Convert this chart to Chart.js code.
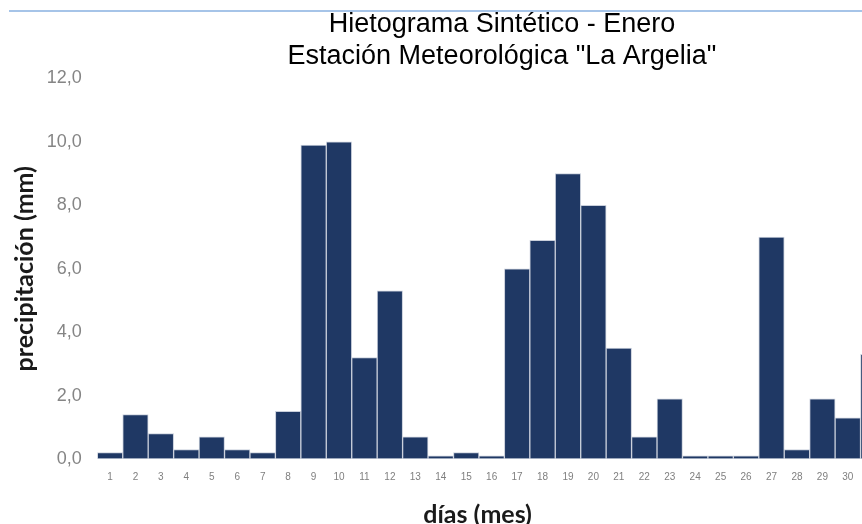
<!DOCTYPE html>
<html lang="es">
<head>
<meta charset="utf-8">
<title>Hietograma Sintético - Enero</title>
<script src="https://cdn.jsdelivr.net/npm/chart.js@4.4.1/dist/chart.umd.min.js"></script>
<style>
  html, body { margin: 0; padding: 0; background: #ffffff; overflow: hidden; }
  #frame { position: relative; width: 862px; height: 524px; overflow: hidden; }
  #chart { position: absolute; left: 0; top: 0; }
  #rule { position: absolute; left: 9px; right: 0; top: 10px; height: 2px; background: #a6c4e8; }
</style>
</head>
<body>
<div id="frame">
  <canvas id="chart" width="1004" height="524"></canvas>
  <div id="rule"></div>
</div>
<script>
// Daily synthetic rainfall for January, station "La Argelia"
const dias = ['1','2','3','4','5','6','7','8','9','10','11','12','13','14','15','16',
              '17','18','19','20','21','22','23','24','25','26','27','28','29','30','31'];
const precipitacion = [0.2, 1.4, 0.8, 0.3, 0.7, 0.3, 0.2, 1.5, 9.9, 10.0, 3.2, 5.3, 0.7, 0.1, 0.2, 0.1,
                       6.0, 6.9, 9.0, 8.0, 3.5, 0.7, 1.9, 0.1, 0.1, 0.1, 7.0, 0.3, 1.9, 1.3, 3.3];
const yTickLabels = ['0,0', '2,0', '4,0', '6,0', '8,0', '10,0', '12,0'];
const titulo = ['Hietograma Sintético - Enero', 'Estación Meteorológica "La Argelia"'];
const tituloY = 'precipitación (mm)';
const tituloX = 'días (mes)';

const VISIBLE_WIDTH = 862;

// x-axis title, centred under the part of the plot that fits the frame
const xTitlePlugin = {
  id: 'xTitle',
  afterDraw(chart) {
    const { ctx, chartArea } = chart;
    const right = Math.min(chartArea.right, VISIBLE_WIDTH);
    ctx.save();
    ctx.font = 'bold 25px Lato, "Open Sans", sans-serif';
    ctx.fillStyle = '#1a1a1a';
    ctx.textAlign = 'center';
    ctx.textBaseline = 'middle';
    ctx.fillText(tituloX, (chartArea.left + right) / 2 - 2, 515);
    ctx.restore();
  }
};

new Chart(document.getElementById('chart'), {
  type: 'bar',
  data: {
    labels: dias,
    datasets: [{
      data: precipitacion,
      backgroundColor: '#1f3864',
      borderColor: '#c9cfdb',
      borderWidth: 1,
      borderSkipped: false,
      barPercentage: 1,
      categoryPercentage: 1
    }]
  },
  options: {
    responsive: false,
    animation: false,
    devicePixelRatio: 1,
    layout: { padding: 0 },
    plugins: {
      legend: { display: false },
      tooltip: { enabled: false },
      title: {
        display: true,
        text: titulo,
        color: '#000000',
        font: { family: '"Liberation Sans", Arial, sans-serif', size: 27, weight: 'normal', lineHeight: 32 / 27 },
        padding: { top: 9, bottom: 5.5 }
      }
    },
    scales: {
      x: {
        grid: { display: false, drawTicks: false },
        border: { display: false },
        ticks: {
          color: '#7f7f7f',
          font: { family: '"Liberation Sans", Arial, sans-serif', size: 10 },
          padding: 12,
          maxRotation: 0,
          autoSkip: false
        },
        afterFit(scale) { scale.height = 65; }
      },
      y: {
        min: 0,
        max: 12,
        grid: { display: false, drawTicks: false },
        border: { display: false },
        ticks: {
          stepSize: 2,
          color: '#858585',
          padding: 15.5,
          font: { family: '"Liberation Sans Narrow", "Liberation Sans", Arial, sans-serif', size: 18 },
          callback: (value, index) => yTickLabels[index]
        },
        title: {
          display: true,
          text: tituloY,
          color: '#1a1a1a',
          font: { family: 'Lato, "Open Sans", sans-serif', size: 25, weight: 'bold', lineHeight: 1.2 },
          padding: { top: 10, bottom: 0 }
        },
        afterFit(scale) { scale.width = 97.3; }
      },
      // empty right-hand margin so the plot runs past the frame edge
      margen: {
        type: 'linear',
        position: 'right',
        display: true,
        grid: { display: false, drawTicks: false },
        border: { display: false },
        ticks: { display: false },
        afterFit(scale) { scale.width = 118; }
      }
    }
  },
  plugins: [xTitlePlugin]
});
</script>
</body>
</html>
